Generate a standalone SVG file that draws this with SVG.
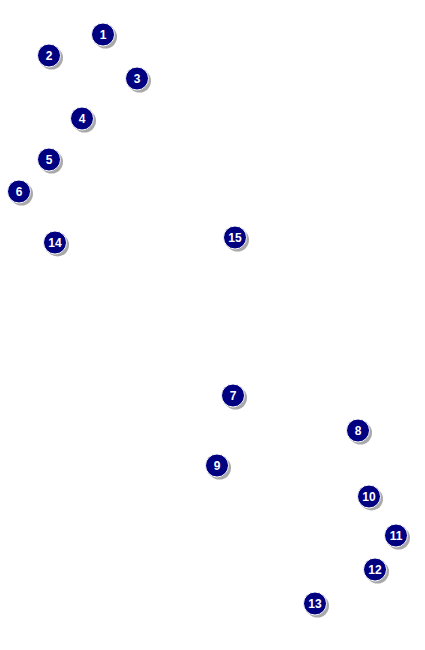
<svg xmlns="http://www.w3.org/2000/svg" width="425" height="650" viewBox="0 0 425 650">
<defs>
<style>
.sh{fill:#8c8c8c;opacity:0.75}
.c{fill:#000080;stroke:#ffffff;stroke-width:1}
.t{fill:#ffffff;font-family:"Liberation Sans",Arial,sans-serif;font-weight:bold;font-size:12px;text-anchor:middle;dominant-baseline:central}
</style>
<g id="m">
<circle class="sh" cx="2.5" cy="2.5" r="11.5"/>
<circle class="c" cx="0" cy="0" r="11.5"/>
</g>
</defs>
<rect width="425" height="650" fill="#ffffff"/>
<g id="connectors"></g>
<g id="n1" transform="translate(103,34.5)"><use href="#m"/><text class="t" x="0" y="0">1</text></g>
<g id="n2" transform="translate(49,55.5)"><use href="#m"/><text class="t" x="0" y="0">2</text></g>
<g id="n3" transform="translate(137,78.5)"><use href="#m"/><text class="t" x="0" y="0">3</text></g>
<g id="n4" transform="translate(82,118.5)"><use href="#m"/><text class="t" x="0" y="0">4</text></g>
<g id="n5" transform="translate(49,159.5)"><use href="#m"/><text class="t" x="0" y="0">5</text></g>
<g id="n6" transform="translate(19,191.5)"><use href="#m"/><text class="t" x="0" y="0">6</text></g>
<g id="n14" transform="translate(55,242.5)"><use href="#m"/><text class="t" x="0" y="0">14</text></g>
<g id="n15" transform="translate(235,237.5)"><use href="#m"/><text class="t" x="0" y="0">15</text></g>
<g id="n7" transform="translate(233,395.5)"><use href="#m"/><text class="t" x="0" y="0">7</text></g>
<g id="n8" transform="translate(358,430.5)"><use href="#m"/><text class="t" x="0" y="0">8</text></g>
<g id="n9" transform="translate(217,465.5)"><use href="#m"/><text class="t" x="0" y="0">9</text></g>
<g id="n10" transform="translate(369,496.5)"><use href="#m"/><text class="t" x="0" y="0">10</text></g>
<g id="n11" transform="translate(396,535.5)"><use href="#m"/><text class="t" x="0" y="0">11</text></g>
<g id="n12" transform="translate(375,569.5)"><use href="#m"/><text class="t" x="0" y="0">12</text></g>
<g id="n13" transform="translate(315,603.5)"><use href="#m"/><text class="t" x="0" y="0">13</text></g>
</svg>
